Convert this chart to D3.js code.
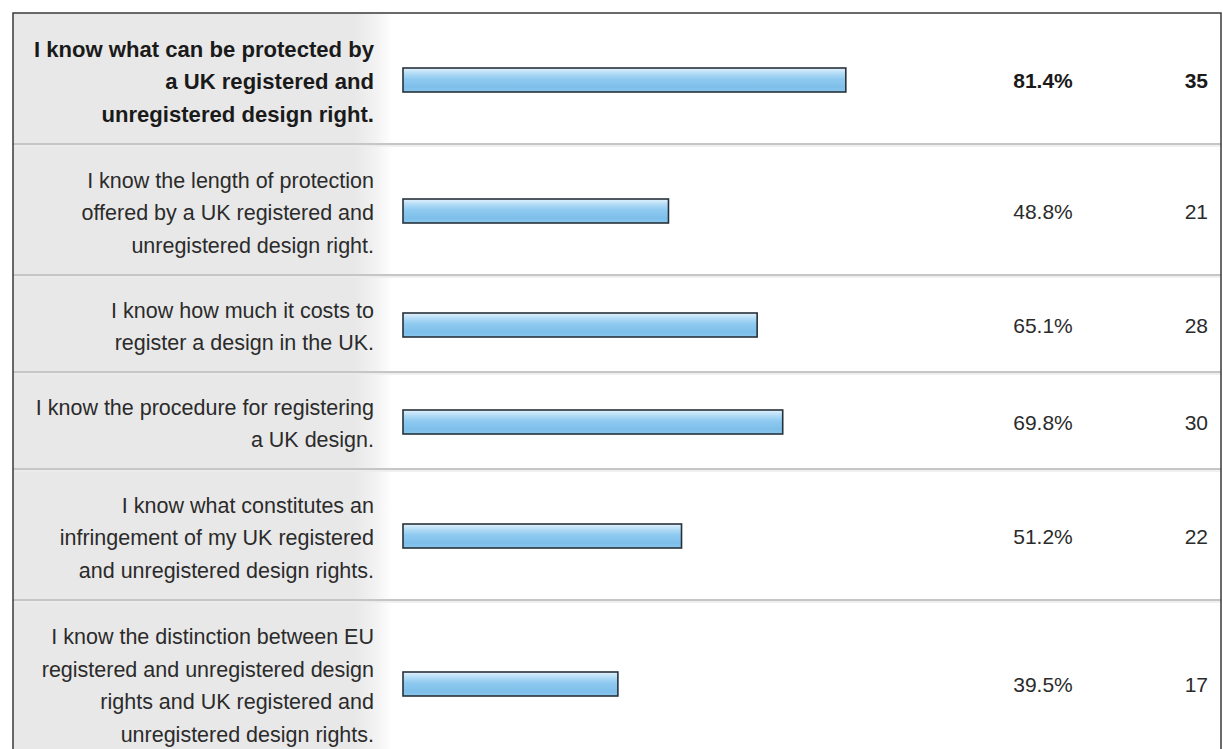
<!DOCTYPE html>
<html>
<head>
<meta charset="utf-8">
<script src="https://cdn.jsdelivr.net/npm/d3@7"></script>
<style>
  html, body { margin: 0; padding: 0; background: #fff; }
  svg { display: block; }
  text { font-family: "Liberation Sans", Arial, Helvetica, sans-serif; }
</style>
</head>
<body>
<svg id="chart" width="1223" height="749"></svg>
<script>
// Survey statements, wrapped as they appear in the answer table
const statements = [
  ["I know what can be protected by", "a UK registered and", "unregistered design right."],
  ["I know the length of protection", "offered by a UK registered and", "unregistered design right."],
  ["I know how much it costs to", "register a design in the UK."],
  ["I know the procedure for registering", "a UK design."],
  ["I know what constitutes an", "infringement of my UK registered", "and unregistered design rights."],
  ["I know the distinction between EU", "registered and unregistered design", "rights and UK registered and", "unregistered design rights."]
];
// Share of respondents (%) and response counts
const percents = [81.4, 48.8, 65.1, 69.8, 51.2, 39.5];
const counts = [35, 21, 28, 30, 22, 17];
// Highlighted (bold) row
const highlighted = [true, false, false, false, false, false];

const W = 1223, H = 749;
const frame = { left: 13, top: 13, right: 1221 };
const labelRight = 374;
const panelRight = 392;
const lineGap = 32.5;

const svg = d3.select("#chart");
const defs = svg.append("defs");

// Bar fill: glossy light blue
const barGrad = defs.append("linearGradient")
  .attr("id", "barFill").attr("x1", 0).attr("y1", 0).attr("x2", 0).attr("y2", 1);
[["0%", "#e4f2fc"], ["22%", "#b3dcf6"], ["45%", "#8fcaf0"], ["80%", "#7dbfea"], ["100%", "#8ac6ec"]]
  .forEach(([o, c]) => barGrad.append("stop").attr("offset", o).attr("stop-color", c));

// Label panel: grey fading to white on its right edge
const panelGrad = defs.append("linearGradient")
  .attr("id", "panelFill").attr("x1", 0).attr("y1", 0).attr("x2", 1).attr("y2", 0);
[["0%", "#e8e8e8"], ["90%", "#e8e8e8"], ["96%", "#f3f3f3"], ["100%", "#ffffff"]]
  .forEach(([o, c]) => panelGrad.append("stop").attr("offset", o).attr("stop-color", c));

// Row geometry: height depends on number of wrapped lines
const rowHeights = statements.map(s => s.length * 34 + 29);
const rowTops = [frame.top, ...d3.cumsum(rowHeights).map(v => frame.top + v)];

const rows = statements.map((lines, i) => ({
  lines, pct: percents[i], n: counts[i], bold: highlighted[i],
  top: rowTops[i], h: rowHeights[i], mid: rowTops[i] + rowHeights[i] / 2
}));

// Horizontal scale for the bars (0–100 %)
const x = d3.scaleLinear().domain([0, 100]).range([403, 947]);

// Label panel background
svg.append("rect")
  .attr("x", frame.left).attr("y", frame.top)
  .attr("width", panelRight - frame.left).attr("height", H - frame.top)
  .attr("fill", "url(#panelFill)");

const g = svg.selectAll("g.row").data(rows).join("g").attr("class", "row");

// Row separators
g.filter((d, i) => i > 0).append("rect")
  .attr("x", frame.left).attr("y", d => d.top - 1)
  .attr("width", frame.right - frame.left).attr("height", 2.2)
  .attr("fill", "#c6c6c6");
g.filter((d, i) => i > 0).append("line")
  .attr("x1", frame.left).attr("x2", frame.right)
  .attr("y1", d => d.top + 2).attr("y2", d => d.top + 2)
  .attr("stroke", "#ececec").attr("stroke-width", 1.5);

// Statement labels, right-aligned
g.append("text")
  .attr("text-anchor", "end")
  .attr("font-size", d => d.bold ? 22.1 : 21.5)
  .attr("font-weight", d => d.bold ? "bold" : "normal")
  .attr("fill", d => d.bold ? "#1a1a1a" : "#2b2b2b")
  .selectAll("tspan")
  .data(d => d.lines.map((t, k) => ({ t, k, n: d.lines.length, mid: d.mid })))
  .join("tspan")
  .attr("x", labelRight)
  .attr("y", l => l.mid + (l.k - (l.n - 1) / 2) * lineGap + 3)
  .attr("dy", "0.35em")
  .text(l => l.t);

// Bars
const barH = 24;
g.append("rect")
  .attr("x", x(0))
  .attr("y", d => d.mid - barH / 2 + 1.5)
  .attr("width", d => x(d.pct) - x(0))
  .attr("height", barH)
  .attr("fill", "url(#barFill)")
  .attr("stroke", "#27313b")
  .attr("stroke-width", 1.6);

// Percentages
g.append("text")
  .attr("x", 1043).attr("y", d => d.mid + 2)
  .attr("dy", "0.35em")
  .attr("text-anchor", "middle")
  .attr("font-size", 21)
  .attr("font-weight", d => d.bold ? "bold" : "normal")
  .attr("fill", d => d.bold ? "#1a1a1a" : "#2b2b2b")
  .text(d => d3.format(".1f")(d.pct) + "%");

// Response counts
g.append("text")
  .attr("x", 1208).attr("y", d => d.mid + 2)
  .attr("dy", "0.35em")
  .attr("text-anchor", "end")
  .attr("font-size", 21)
  .attr("font-weight", d => d.bold ? "bold" : "normal")
  .attr("fill", d => d.bold ? "#1a1a1a" : "#2b2b2b")
  .text(d => d.n);

// Table frame: top, left and right edges
svg.append("path")
  .attr("d", `M${frame.left},${H} V${frame.top} H${frame.right} V${H}`)
  .attr("fill", "none")
  .attr("stroke", "#3a3a3a")
  .attr("stroke-width", 1.5);
</script>
</body>
</html>
